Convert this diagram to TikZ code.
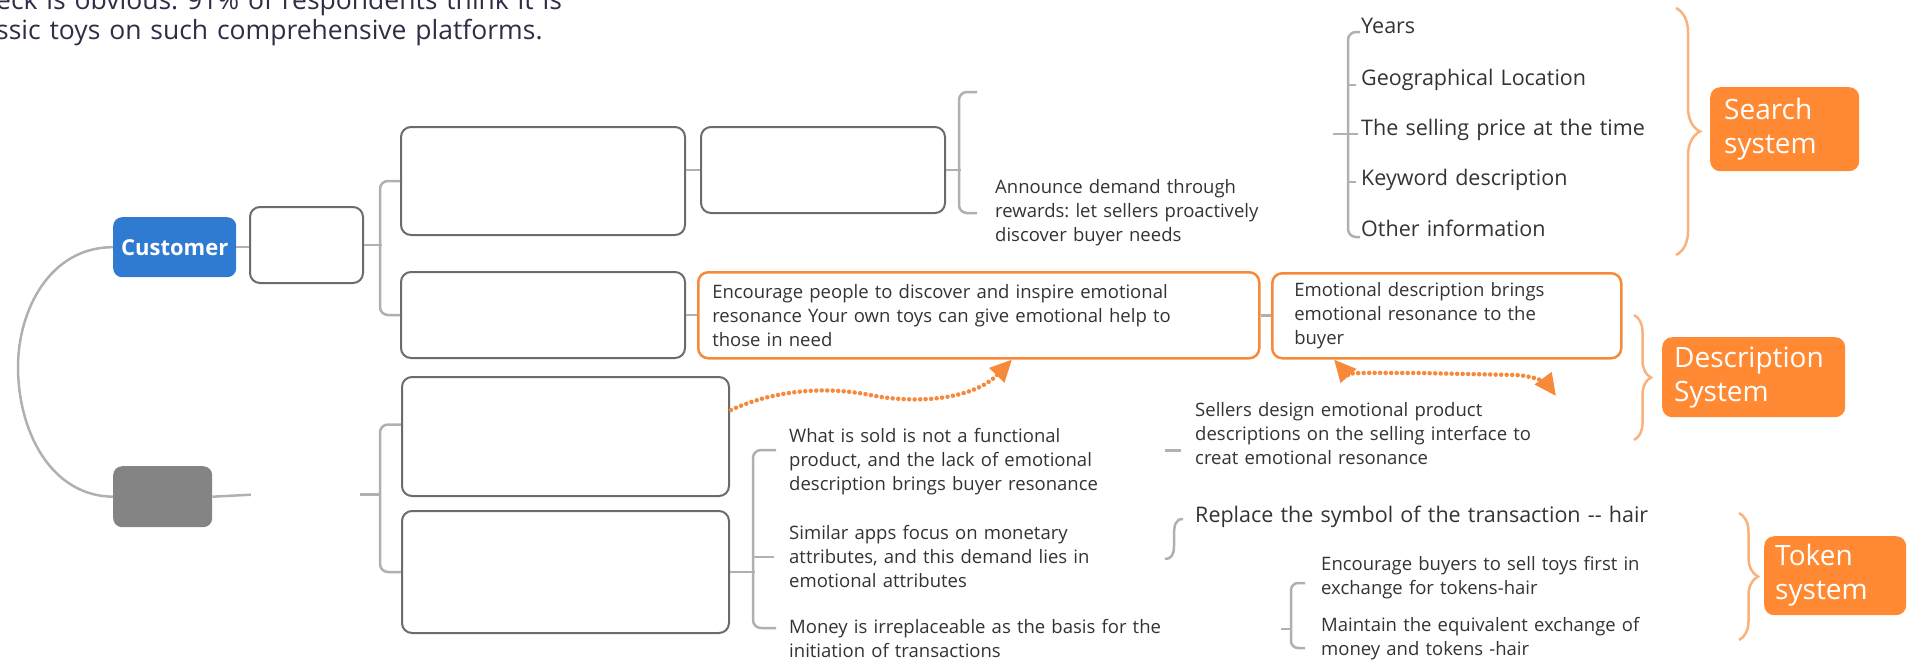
\documentclass[tikz,border=0pt]{standalone}
\usepackage{fontspec}
\setmainfont{Open Sans}
\usetikzlibrary{positioning,arrows.meta,decorations.pathreplacing}
\definecolor{custblue}{HTML}{2F7BD1}
\definecolor{boxgray}{HTML}{848484}
\definecolor{edgegray}{HTML}{6B6B6B}
\definecolor{linkgray}{HTML}{B0B0B0}
\definecolor{orangefill}{HTML}{FF8A33}
\definecolor{orangeline}{HTML}{F7893A}
\definecolor{bracelight}{HTML}{F9B27D}
\definecolor{inktext}{HTML}{333333}
\newcommand{\bodyfont}{\fontsize{18.5}{24}\selectfont}
\frenchspacing

\begin{document}
\begin{tikzpicture}[x=1pt,y=-1pt,
    box/.style={draw=edgegray,line width=2pt,rounded corners=10pt,anchor=north west,inner sep=0pt},
    obox/.style={draw=orangeline,line width=2.5pt,rounded corners=10pt,anchor=north west,inner ysep=0pt,align=left,text=inktext,font=\bodyfont},
    sysbox/.style={fill=orangefill,rounded corners=10pt,anchor=north west,inner ysep=0pt,align=left,text=white,font=\fontsize{28}{34}\selectfont},
    note/.style={anchor=base west,inner sep=0pt,align=left,text width=420pt,text=inktext,font=\bodyfont},
    item/.style={note,text width=600pt,font=\fontsize{21.5}{26}\selectfont},
    link/.style={draw=linkgray,line width=2.5pt},
    brace/.style={draw=bracelight,line width=2.5pt,decorate},
    wave/.style={draw=orangeline,line width=4.5pt,line cap=round,dash pattern=on 0pt off 5.5pt}]
  \useasboundingbox (0,0) rectangle (1916,659);
  \clip (0,0) rectangle (1916,659);

  % caption left over from the page
  \node[note,text width=800pt,text=inktext!90!blue,font=\fontsize{26.5}{30}\selectfont] (caption) at (-4,9)
    {eck is obvious: 91\% of respondents think it is\\ssic toys on such comprehensive platforms.};

  % roots
  \node[fill=custblue,rounded corners=9pt,anchor=north west,minimum width=123pt,minimum height=60pt,inner sep=0pt,text=white,font=\fontsize{22}{24}\selectfont\bfseries] (customer) at (113,217) {Customer};
  \node[fill=boxgray,rounded corners=9pt,anchor=north west,minimum width=99pt,minimum height=61pt,inner sep=0pt] (seller) at (113,466) {};
  \draw[link] (customer.west) .. controls (50,247) and (18,310) .. (18,367)
    .. controls (18,430) and (50,496) .. (seller.west);

  % customer branch
  \node[box,minimum width=113pt,minimum height=76pt] (needbox) at (249,206) {};
  \node[box,minimum width=284pt,minimum height=108pt] (askbox) at (400,126) {};
  \node[box,minimum width=244pt,minimum height=86pt] (rewardbox) at (700,126) {};
  \node[box,minimum width=284pt,minimum height=86pt] (feelbox) at (400,271) {};
  \node[obox,inner xsep=14pt,text width=533pt,minimum height=86pt] (inspire) at (697,271)
    {Encourage people to discover and inspire emotional\\resonance Your own toys can give emotional help to\\those in need};
  \node[obox,inner xsep=22pt,text width=305pt,minimum height=85pt] (resonance) at (1271,272)
    {Emotional description brings\\emotional resonance to the\\buyer};
  \draw[link] (customer.east) -- (customer.east -| needbox.west);
  \draw[link] (needbox.east) -- ++(18,0);
  \draw[link,rounded corners=8pt] (askbox.west) -- ++(-20,0) |- (feelbox.west);
  \draw[link] (rewardbox.west -| askbox.east) -- (rewardbox.west);
  \draw[link] (feelbox.east) -- (feelbox.east -| inspire.west);
  \draw[link] (inspire.east) -- (inspire.east -| resonance.west);
  \draw[link] (rewardbox.east) -- ++(15,0);
  \draw[link,rounded corners=8pt] (977,92) -- (959,92) -- (959,213) -- (977,213);
  \node[note] (announce) at (995,193)
    {Announce demand through\\rewards: let sellers proactively\\discover buyer needs};

  % seller branch
  \node[anchor=north west,minimum width=109pt,minimum height=61pt,inner sep=0pt] (ghost) at (251,464) {};
  \node[box,minimum width=327pt,minimum height=119pt] (lackbox) at (401,376) {};
  \node[box,minimum width=327pt,minimum height=122pt] (coinbox) at (401,510) {};
  \draw[link] (seller.east) -- (ghost.west);
  \draw[link] (ghost.east) -- ++(20,0);
  \draw[link,rounded corners=8pt] ([yshift=12pt]lackbox.west) -- ++(-21,0) |- (coinbox.west);
  \draw[link] (coinbox.east) -- ++(25,0);
  \draw[link,rounded corners=8pt] (776,450) -- (753,450) -- (753,628) -- (776,628);
  \draw[link] (753,557) -- (774,557);
  \node[note] (notsold) at (789,442)
    {What is sold is not a functional\\product, and the lack of emotional\\description brings buyer resonance};
  \node[note] (similar) at (789,539)
    {Similar apps focus on monetary\\attributes, and this demand lies in\\emotional attributes};
  \node[note] (money) at (789,633)
    {Money is irreplaceable as the basis for the\\initiation of transactions};

  % description part
  \node[note] (design) at (1195,416)
    {Sellers design emotional product\\descriptions on the selling interface to\\creat emotional resonance};
  \coordinate (dashend) at (1165,450);
  \draw[link,line width=3pt] (dashend) -- ++(16,0);
  \coordinate (wavestart) at (731,410);
  \coordinate (wavepeak) at (1556,396);
  \draw[wave,-{Triangle[length=22pt,width=20pt]}] (wavestart) .. controls (770,392) and (820,385) .. (870,395)
    .. controls (920,405) and (975,398) .. (inspire.south -| 1012,0);
  \draw[wave,{Triangle[length=22pt,width=20pt]}-{Triangle[length=22pt,width=20pt]}] (resonance.south -| 1334,0)
    .. controls (1345,372) and (1380,373) .. (1420,373) -- (1515,375) .. controls (1538,376) and (1548,385) .. (wavepeak);

  % token part
  \node[item] (replace) at (1195,522) {Replace the symbol of the transaction -{}- hair};
  \draw[link] (1183,519) .. controls (1175,519) and (1174,526) .. (1174,536) -- (1174,546)
    .. controls (1174,555) and (1171,559) .. (1165,559);
  \node[note] (sellfirst) at (1321,570) {Encourage buyers to sell toys first in\\exchange for tokens-hair};
  \node[note] (equal) at (1321,631) {Maintain the equivalent exchange of\\money and tokens -hair};
  \draw[link,rounded corners=7pt] (1305,583) -- (1291,583) -- (1291,648) -- (1305,648);
  \draw[link] (1281,629) -- (1291,629);

  % search part
  \node[item] (years) at (1361,33) {Years};
  \node[item] (place) at (1361,85) {Geographical Location};
  \node[item] (price) at (1361,135) {The selling price at the time};
  \node[item] (keyword) at (1361,185) {Keyword description};
  \node[item] (other) at (1361,236) {Other information};
  \draw[link,rounded corners=8pt] (1360,32) -- (1348,32) -- (1348,237) -- (1360,237);
  \draw[link] (1333,134) -- (1358,134);
  \draw[link] (1348,85) -- (1356,85);
  \draw[link] (1348,182) -- (1356,182);

  % systems
  \node[sysbox,inner xsep=14pt,text width=121pt,minimum height=84pt] (search) at (1710,87) {Search\\system};
  \node[sysbox,inner xsep=12pt,text width=159pt,minimum height=80pt] (descsys) at (1662,337) {Description\\System};
  \node[sysbox,inner xsep=11pt,text width=120pt,minimum height=79pt] (tokensys) at (1764,536) {Token\\system};
  \draw[brace,decoration={brace,amplitude=24pt}] (1676,8) -- (1676,255);
  \draw[brace,decoration={brace,amplitude=17pt}] (1634,315) -- (1634,440);
  \draw[brace,decoration={brace,amplitude=19pt}] (1739,513) -- (1739,640);
\end{tikzpicture}
\end{document}
